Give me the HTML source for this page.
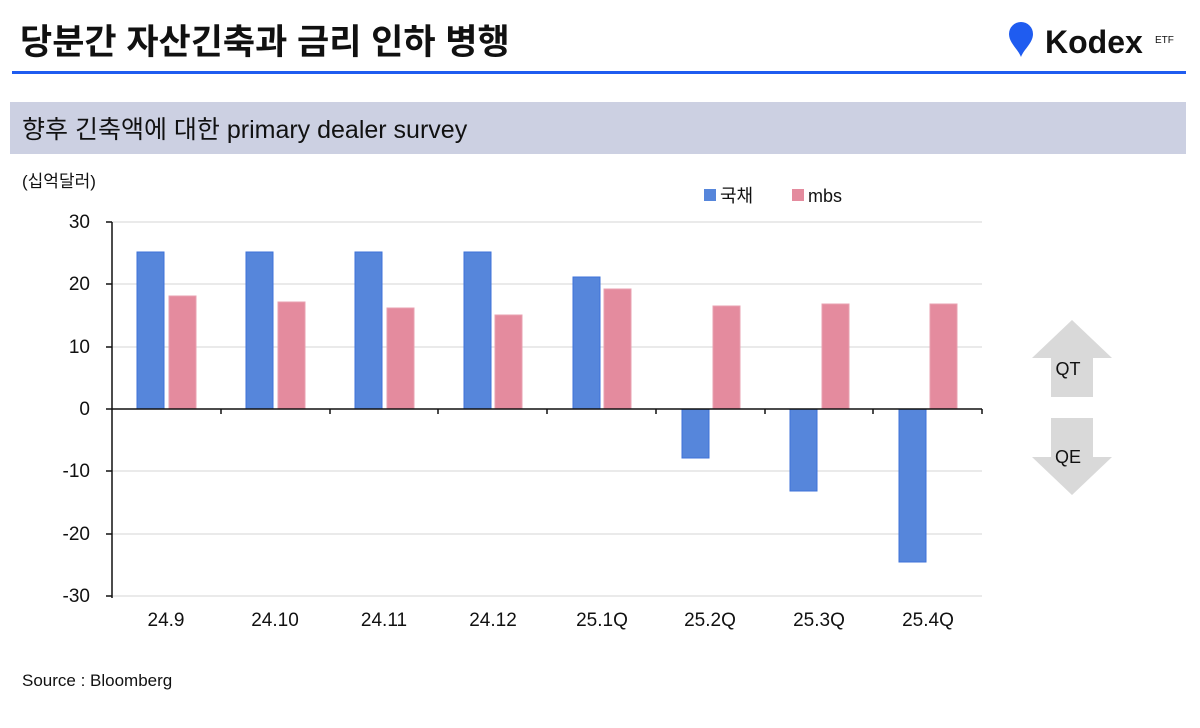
<!DOCTYPE html>
<html><head><meta charset="utf-8"><style>
body{margin:0;width:1200px;height:723px;background:#fff;overflow:hidden;font-family:"Liberation Sans","Noto Sans CJK KR",sans-serif}
</style></head><body>
<svg width="1200" height="723" xmlns="http://www.w3.org/2000/svg" font-family="Liberation Sans, Noto Sans CJK KR, sans-serif">
<text x="20" y="54" font-size="35" font-weight="bold" fill="#111">당분간 자산긴축과 금리 인하 병행</text>
<path d="M1021 22 a12 12 0 0 1 12 12 c0 9 -9 15 -12 23 c-3 -8 -12 -14 -12 -23 a12 12 0 0 1 12 -12z" fill="#1f5cf0"/>
<text x="1045" y="53" font-size="32" font-weight="bold" fill="#111">Kodex</text>
<text x="1155" y="43" font-size="10" fill="#111">ETF</text>
<rect x="12" y="71" width="1174" height="3" fill="#1f5cf0"/>
<rect x="10" y="102" width="1176" height="52" fill="#ccd0e2"/>
<text x="22" y="138" font-size="25" fill="#111">향후 긴축액에 대한 primary dealer survey</text>
<text x="22" y="187" font-size="17" fill="#111">(십억달러)</text>
<rect x="704" y="189" width="12" height="12" fill="#5686db"/><text x="720" y="202" font-size="18" fill="#111">국채</text>
<rect x="792" y="189" width="12" height="12" fill="#e48b9e"/><text x="808" y="202" font-size="18" fill="#111">mbs</text>
<g stroke="#d4d4d4" stroke-width="1">
<line x1="112" x2="982" y1="222" y2="222"/><line x1="112" x2="982" y1="284" y2="284"/><line x1="112" x2="982" y1="347" y2="347"/>
<line x1="112" x2="982" y1="471" y2="471"/><line x1="112" x2="982" y1="534" y2="534"/><line x1="112" x2="982" y1="596" y2="596"/>
</g>
<g font-size="19" fill="#111" text-anchor="end">
<text x="90" y="228">30</text><text x="90" y="290">20</text><text x="90" y="353">10</text><text x="90" y="415">0</text>
<text x="90" y="477">-10</text><text x="90" y="540">-20</text><text x="90" y="602">-30</text>
</g>
<g fill="#5686db" stroke="#3d72d8" stroke-width="1">
<rect x="137" y="252" width="27" height="157"/>
<rect x="246" y="252" width="27" height="157"/>
<rect x="355" y="252" width="27" height="157"/>
<rect x="464" y="252" width="27" height="157"/>
<rect x="573" y="277" width="27" height="132"/>
<rect x="682" y="409" width="27" height="49"/>
<rect x="790" y="409" width="27" height="82"/>
<rect x="899" y="409" width="27" height="153"/>
</g>
<g fill="#e48b9e" stroke="#e8a0b0" stroke-width="1">
<rect x="169" y="296" width="27" height="113"/>
<rect x="278" y="302" width="27" height="107"/>
<rect x="387" y="308" width="27" height="101"/>
<rect x="495" y="315" width="27" height="94"/>
<rect x="604" y="289" width="27" height="120"/>
<rect x="713" y="306" width="27" height="103"/>
<rect x="822" y="304" width="27" height="105"/>
<rect x="930" y="304" width="27" height="105"/>
</g>
<g stroke="#111" stroke-width="1.5">
<line x1="112" x2="112" y1="222" y2="598"/>
<line x1="106" x2="982" y1="409" y2="409"/>
<line x1="106" x2="112" y1="222" y2="222"/><line x1="106" x2="112" y1="284" y2="284"/><line x1="106" x2="112" y1="347" y2="347"/>
<line x1="106" x2="112" y1="471" y2="471"/><line x1="106" x2="112" y1="534" y2="534"/><line x1="106" x2="112" y1="596" y2="596"/>
<line x1="221" x2="221" y1="409" y2="414"/><line x1="330" x2="330" y1="409" y2="414"/><line x1="438" x2="438" y1="409" y2="414"/>
<line x1="547" x2="547" y1="409" y2="414"/><line x1="656" x2="656" y1="409" y2="414"/><line x1="765" x2="765" y1="409" y2="414"/>
<line x1="873" x2="873" y1="409" y2="414"/><line x1="982" x2="982" y1="409" y2="414"/>
</g>
<g font-size="19" fill="#111" text-anchor="middle">
<text x="166" y="626">24.9</text><text x="275" y="626">24.10</text><text x="384" y="626">24.11</text><text x="493" y="626">24.12</text>
<text x="602" y="626">25.1Q</text><text x="710" y="626">25.2Q</text><text x="819" y="626">25.3Q</text><text x="928" y="626">25.4Q</text>
</g>
<polygon points="1072,320 1112,358 1093,358 1093,397 1051,397 1051,358 1032,358" fill="#d9d9d9"/>
<polygon points="1072,495 1112,457 1093,457 1093,418 1051,418 1051,457 1032,457" fill="#d9d9d9"/>
<text x="1068" y="375" font-size="18" fill="#111" text-anchor="middle">QT</text>
<text x="1068" y="463" font-size="18" fill="#111" text-anchor="middle">QE</text>
<text x="22" y="686" font-size="17" fill="#111">Source : Bloomberg</text>
</svg>
</body></html>
